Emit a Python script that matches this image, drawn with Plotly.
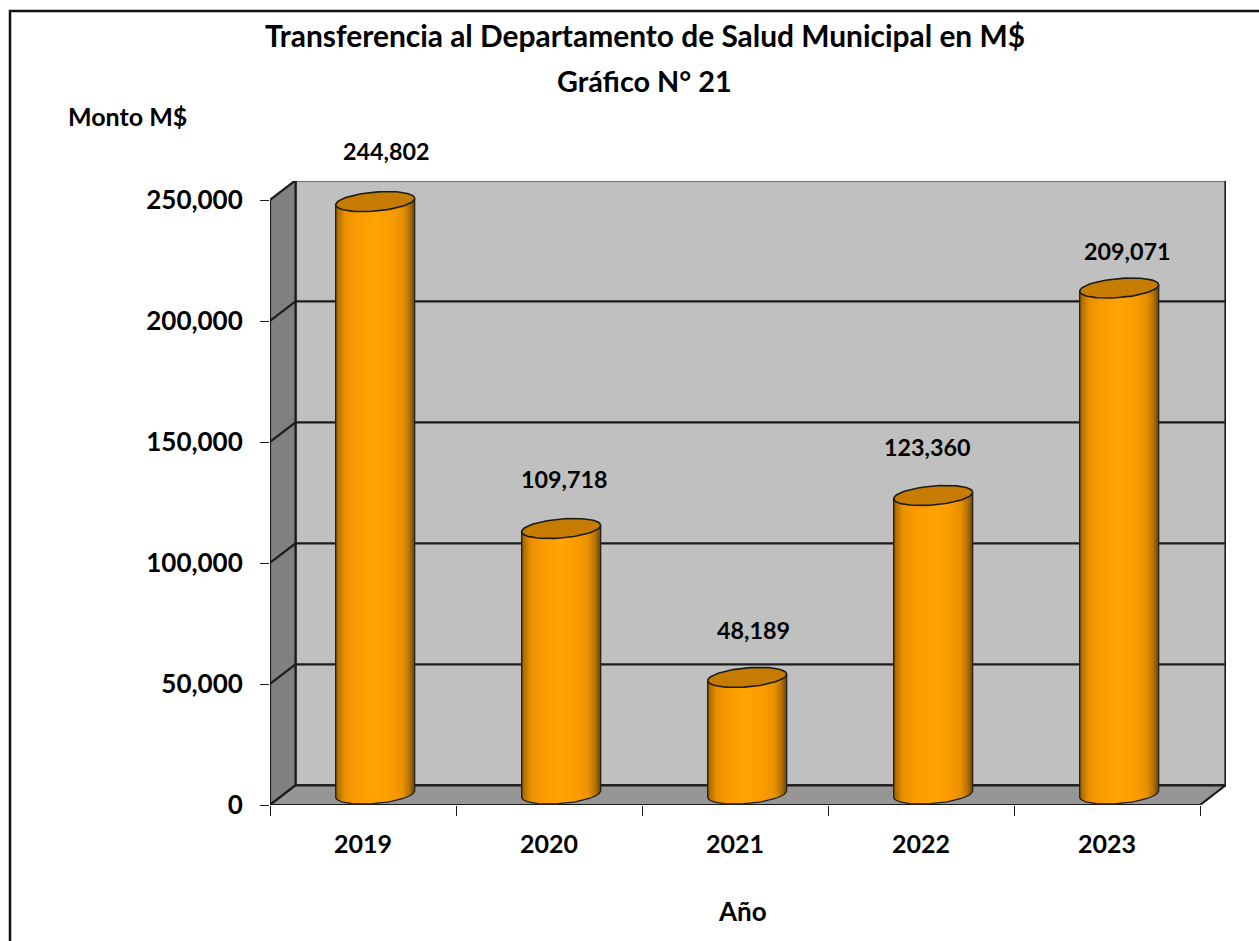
import numpy as np
import plotly.graph_objects as go

YEARS = ["2019", "2020", "2021", "2022", "2023"]
VALUES = [244802, 109718, 48189, 123360, 209071]
Y_TICKS = [0, 50000, 100000, 150000, 200000, 250000]
LABEL_SHIFT_X = [23, 15, 18, 6, 20]
LABEL_SHIFT_Y = [62, 60, 58, 59, 48]

TITLE_1 = "Transferencia al Departamento de Salud Municipal en M$"
TITLE_2 = "Gráfico N° 21"
FONT = "Lato, Carlito, Calibri, sans-serif"
INK = "#1c1c1c"


def bold(size):
    return dict(family=FONT, size=size, color="#000000", weight=700)


W, H = 1259, 941
L, R, T, B = 270, 1226, 181, 805
PX_X = 186.0
PX_Y = 605 / 250000
DX = 25.5 / PX_X
DY = 19.7 / PX_Y
CX = 12.2 / PX_X
CY = 11 / PX_Y
A = 39.5 / PX_X
BB = 9.5 / PX_Y
TILT = 3.2 / PX_Y

y_max = (B - T) / PX_Y
x_rng = [-0.5, -0.5 + (R - L) / PX_X]
y_rng = [0, y_max]


def poly(pts):
    return "M" + " L".join(f"{x},{y}" for x, y in pts) + " Z"


shapes = []
xl, xr = -0.5, 4.5
top = 250000
shapes.append(dict(type="path", path=poly([(xl + DX, DY), (xr + DX, DY), (xr + DX, top + DY), (xl + DX, top + DY)]),
                   xref="x", yref="y", fillcolor="#c0c0c0", line=dict(color=INK, width=2.2), layer="below"))
shapes.append(dict(type="path", path=poly([(xl, 0), (xl + DX, DY), (xl + DX, top + DY), (xl, top)]),
                   xref="x", yref="y", fillcolor="#808080", line=dict(color=INK, width=2.2), layer="below"))
shapes.append(dict(type="path", path=poly([(xl, 0), (xr, 0), (xr + DX, DY), (xl + DX, DY)]),
                   xref="x", yref="y", fillcolor="#969696", line=dict(color=INK, width=2.2), layer="below"))
for v in Y_TICKS[1:-1]:
    shapes.append(dict(type="path", path=f"M{xl},{v} L{xl + DX},{v + DY} L{xr + DX},{v + DY}",
                       xref="x", yref="y", line=dict(color=INK, width=2.2), layer="below"))
# outer frame of the page
fx = lambda p: (p - L) / (R - L)
fy = lambda p: (B - p) / (B - T)
shapes.append(dict(type="path", path=f"M{fx(10)},{fy(H + 5)} L{fx(10)},{fy(11)} L{fx(W + 5)},{fy(11)}",
                   xref="paper", yref="paper", line=dict(color="#111111", width=2.5)))

fig = go.Figure()

# cylinder body made of thin vertical strips with a horizontal shading
stops_t = [-1.0, -0.93, -0.75, -0.45, 0.0, 0.45, 0.7, 0.88, 1.0]
stops_r = [120, 175, 235, 250, 255, 250, 235, 185, 110]
stops_g = [75, 110, 145, 155, 165, 155, 145, 115, 75]
stops_b = [0, 0, 0, 0, 0, 0, 0, 5, 10]
N = 79
edges = np.linspace(-1, 1, N + 1)
idx = np.arange(len(VALUES))
vals = np.array(VALUES, dtype=float)
for i in range(N):
    t = (edges[i] + edges[i + 1]) / 2
    col = "rgb(%d,%d,%d)" % (np.interp(t, stops_t, stops_r), np.interp(t, stops_t, stops_g), np.interp(t, stops_t, stops_b))
    lower = CY + TILT * t - BB * np.sqrt(max(0, 1 - t * t))
    upper = vals + CY + TILT * t
    fig.add_trace(go.Bar(
        x=idx + CX + t * A, y=upper - lower, base=[lower] * len(vals),
        width=A * 2 / N * 1.4, marker=dict(color=col, line=dict(width=0)),
        hoverinfo="skip", showlegend=False))

theta = np.linspace(0, 2 * np.pi, 81)
half = np.linspace(0, np.pi, 41)
for i, v in enumerate(VALUES):
    cx = i + CX
    fig.add_trace(go.Scatter(x=[cx - A, cx - A], y=[CY - TILT, v + CY - TILT], mode="lines",
                             line=dict(color=INK, width=1.2), hoverinfo="skip", showlegend=False))
    fig.add_trace(go.Scatter(x=[cx + A, cx + A], y=[CY + TILT, v + CY + TILT], mode="lines",
                             line=dict(color=INK, width=1.2), hoverinfo="skip", showlegend=False))
    fig.add_trace(go.Scatter(x=cx - A * np.cos(half), y=CY - TILT * np.cos(half) - BB * np.sin(half), mode="lines",
                             line=dict(color=INK, width=1.2), hoverinfo="skip", showlegend=False))
    fig.add_trace(go.Scatter(x=cx + A * np.cos(theta), y=v + CY + TILT * np.cos(theta) + BB * np.sin(theta),
                             mode="lines", fill="toself", fillcolor="#c67c00",
                             line=dict(color=INK, width=1.6), hoverinfo="skip", showlegend=False))

annotations = []
for i, v in enumerate(VALUES):
    annotations.append(dict(x=i, y=v, xref="x", yref="y", text=f"{v:,}", showarrow=False,
                            xanchor="center", yanchor="middle",
                            xshift=LABEL_SHIFT_X[i], yshift=LABEL_SHIFT_Y[i], font=bold(23.3)))
for text, px, py, size in [(TITLE_2, 644, 81, 28.8), ("Monto M$", 127, 116, 25), ("Año", 742, 911, 26)]:
    annotations.append(dict(x=fx(px), y=fy(py), xref="paper", yref="paper", text=text, showarrow=False,
                            xanchor="center", yanchor="middle", font=bold(size)))

fig.update_layout(
    width=W, height=H, autosize=False,
    margin=dict(l=L, r=W - R, t=T, b=H - B, pad=0),
    paper_bgcolor="#ffffff", plot_bgcolor="#ffffff",
    barmode="overlay", bargap=0,
    title=dict(text=TITLE_1, x=645 / W, xanchor="center", y=1 - 37 / H, yanchor="middle", font=bold(29.9)),
    shapes=shapes, annotations=annotations, showlegend=False,
    xaxis=dict(range=x_rng, tickmode="array", tickvals=list(idx), ticktext=YEARS,
               ticks="outside", ticklen=17, tickcolor="rgba(0,0,0,0)", showgrid=False, zeroline=False,
               showline=False, tickfont=bold(25),
               minor=dict(tickmode="array", tickvals=[-0.5, 0.5, 1.5, 2.5, 3.5, 4.5], ticks="outside",
                          ticklen=10, tickcolor=INK, tickwidth=1, showgrid=False)),
    yaxis=dict(range=y_rng, tickmode="array", tickvals=Y_TICKS, tickformat=",", ticks="outside", ticklen=9,
               tickcolor=INK, tickwidth=1, showgrid=False, zeroline=False, showline=False,
               ticklabelstandoff=12, tickfont=bold(26)),
)
fig.write_html("out.html", config={"displayModeBar": False}, post_script="document.body.style.margin='0';")
